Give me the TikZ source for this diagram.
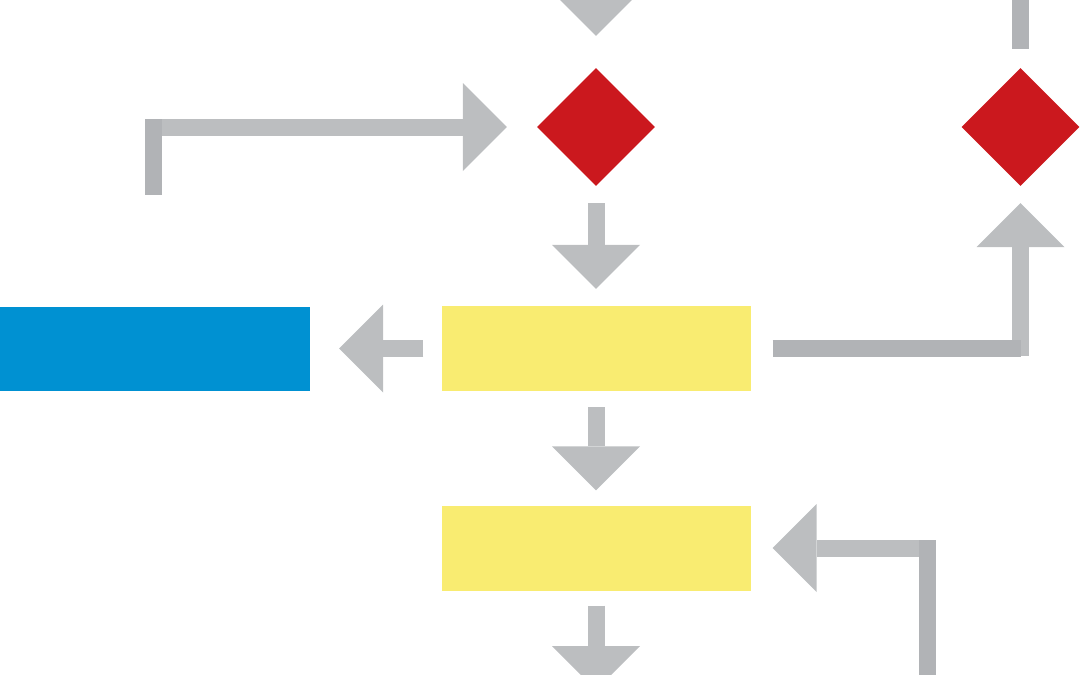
\documentclass[tikz,border=0pt]{standalone}
\usetikzlibrary{arrows.meta,shapes.geometric}
\usepackage{xcolor}
\definecolor{flowgrey}{HTML}{BCBEC0}
\definecolor{leggrey}{HTML}{B1B3B6}
\definecolor{decred}{HTML}{CB181E}
\definecolor{taskyellow}{HTML}{F9EC71}
\definecolor{outblue}{HTML}{0091D2}

\begin{document}
\begin{tikzpicture}[x=1pt, y=-1pt,
  task/.style={fill=taskyellow, minimum width=309pt, minimum height=85pt,
               inner sep=0pt},
  outbox/.style={fill=outblue, minimum width=310pt, minimum height=84pt,
                 inner sep=0pt},
  decision/.style={diamond, fill=decred, minimum width=118pt,
                   minimum height=118pt, inner sep=0pt},
  flow/.style={draw=flowgrey, line width=17pt,
               -{Triangle[width=88pt, length=44pt, line width=0pt]}},
  leg/.style={draw=leggrey, line width=17pt},
]
  \useasboundingbox (0,0) rectangle (1080,675);
  \clip (0,0) rectangle (1080,675);

  \node[decision] (dec1) at (596,127) {};
  \node[decision] (dec2) at (1020.5,127) {};
  \node[task] (task1) at (596,348.5) {};
  \node[task] (task2) at (596,548) {};
  \node[outbox] (out) at (155,348.5) {};

  % free ends
  \coordinate (top1) at (596,-80);
  \coordinate (top2) at (1020.5,-10);
  \coordinate (lstart) at (153,186.5);
  \coordinate (lbend) at (153,127);
  \coordinate (rbend) at (1020.5,356);
  \coordinate (rcorner) at (1020.5,348.5);
  \coordinate (bstart) at (927,700);
  \coordinate (bbend) at (927,548);
  \coordinate (bottom) at (596,690);

  \draw[flow, shorten >=32pt] (top1) -- (dec1);
  \draw[leg, shorten >=19pt] (top2) -- (dec2);
  \draw[flow, shorten >=30pt] (lbend) -- (dec1);
  \draw[leg, line cap=rect] (lstart) -- (lbend);
  \draw[flow, shorten <=17pt, shorten >=17pt] (dec1) -- (task1);
  \draw[flow, shorten <=18pt, shorten >=29pt] (task1) -- (out);
  \draw[flow, shorten >=17pt] (rbend) -- (dec2);
  \draw[leg, shorten <=22pt] (task1) -- (rcorner);
  \draw[flow, shorten <=16pt, shorten >=15pt] (task1) -- (task2);
  \draw[flow, shorten >=22pt] (bbend) -- (task2);
  \draw[leg, line cap=rect] (bstart) -- (bbend);
  \draw[flow, shorten <=15pt] (task2) -- (bottom);
\end{tikzpicture}
\end{document}
